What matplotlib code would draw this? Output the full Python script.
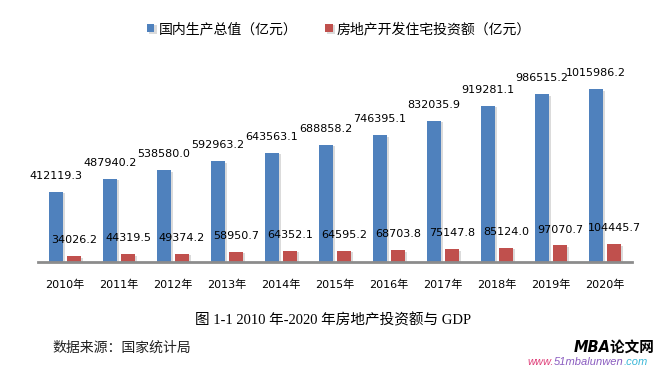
import matplotlib
matplotlib.use("Agg")
import matplotlib.pyplot as plt
import matplotlib.patheffects as pe
import numpy as np

years = ["2010年", "2011年", "2012年", "2013年", "2014年", "2015年",
         "2016年", "2017年", "2018年", "2019年", "2020年"]
gdp = [412119.3, 487940.2, 538580.0, 592963.2, 643563.1, 688858.2,
       746395.1, 832035.9, 919281.1, 986515.2, 1015986.2]
house_inv = [34026.2, 44319.5, 49374.2, 58950.7, 64352.1, 64595.2,
             68703.8, 75147.8, 85124.0, 97070.7, 104445.7]
series_names = ["国内生产总值（亿元）", "房地产开发住宅投资额（亿元）"]

plt.rcParams['font.family'] = ['DejaVu Sans', 'Noto Sans CJK SC']

fig = plt.figure(figsize=(6.58, 3.68), dpi=100)
ax = fig.add_axes([38/658, 1-262/368, 594/658, 204/368])

x = np.arange(len(years))
w = 0.26
off = 0.167
shadow = [pe.SimplePatchShadow(offset=(1.5, -1.0), shadow_rgbFace='#9a9a9a', alpha=0.35), pe.Normal()]
b1 = ax.bar(x - off, gdp, w, color='#4F81BD', label=series_names[0], zorder=3)
b2 = ax.bar(x + off, house_inv, w, color='#C0504D', label=series_names[1], zorder=3)
for b in list(b1) + list(b2):
    b.set_path_effects(shadow)

for xi, v in zip(x, gdp):
    ax.annotate(f"{v:.1f}", (xi - off, v), xytext=(0, 11.5), textcoords='offset points',
                ha='center', va='center', fontsize=8, color='black')
for xi, v in zip(x, house_inv):
    ax.annotate(f"{v:.1f}", (xi + off, v), xytext=(0, 11.5), textcoords='offset points',
                ha='center', va='center', fontsize=8, color='black')

ax.set_xlim(-0.5, 10.5)
ax.set_ylim(0, 1200000)
ax.set_xticks(x)
ax.set_xticklabels(years, fontsize=8)
ax.tick_params(axis='x', length=0, pad=13)
ax.set_yticks([])
for s in ['top', 'right', 'left']:
    ax.spines[s].set_visible(False)
ax.spines['bottom'].set_color('#8c8c8c')
ax.spines['bottom'].set_linewidth(2)
ax.spines['bottom'].set_zorder(4)

leg = fig.legend(handles=[b1, b2], labels=series_names, loc='center',
                 bbox_to_anchor=(339/658, 1-29/368), ncol=2, frameon=False,
                 handlelength=0.55, handleheight=0.55, handletextpad=0.3,
                 columnspacing=2.0, prop={'family': ['Noto Sans CJK SC'], 'size': 10})

fig.text(333/658, 1-320/368, "图 1-1 2010 年-2020 年房地产投资额与 GDP", ha='center', va='center',
         fontsize=10.5, family=['Liberation Serif', 'Noto Sans CJK SC'])
fig.text(52/658, 1-348/368, "数据来源：国家统计局", ha='left', va='center',
         fontsize=10, family=['Noto Sans CJK SC'], color='#222222')

fig.text(655/658, 1-347/368, "MBA论文网", ha='right', va='center', fontsize=10.5,
         fontweight='bold', style='italic', family=['DejaVu Sans', 'Noto Sans CJK SC'])
# watermark url with colored pieces
t1 = fig.text(527/658, 1-362/368, "www.", ha='left', va='center', fontsize=8,
              style='italic', color='#e0407a', family=['Liberation Sans'])
fig.canvas.draw()
r = fig.canvas.get_renderer()
bb = t1.get_window_extent(r)
t2 = fig.text(bb.x1/658, 1-362/368, "51mbalunwen", ha='left', va='center', fontsize=8,
              style='italic', color='#8a5cc0', family=['Liberation Sans'])
bb2 = t2.get_window_extent(r)
fig.text(bb2.x1/658, 1-362/368, ".com", ha='left', va='center', fontsize=8,
         style='italic', color='#3bb8d8', family=['Liberation Sans'])

fig.savefig("out.png", dpi=100)
